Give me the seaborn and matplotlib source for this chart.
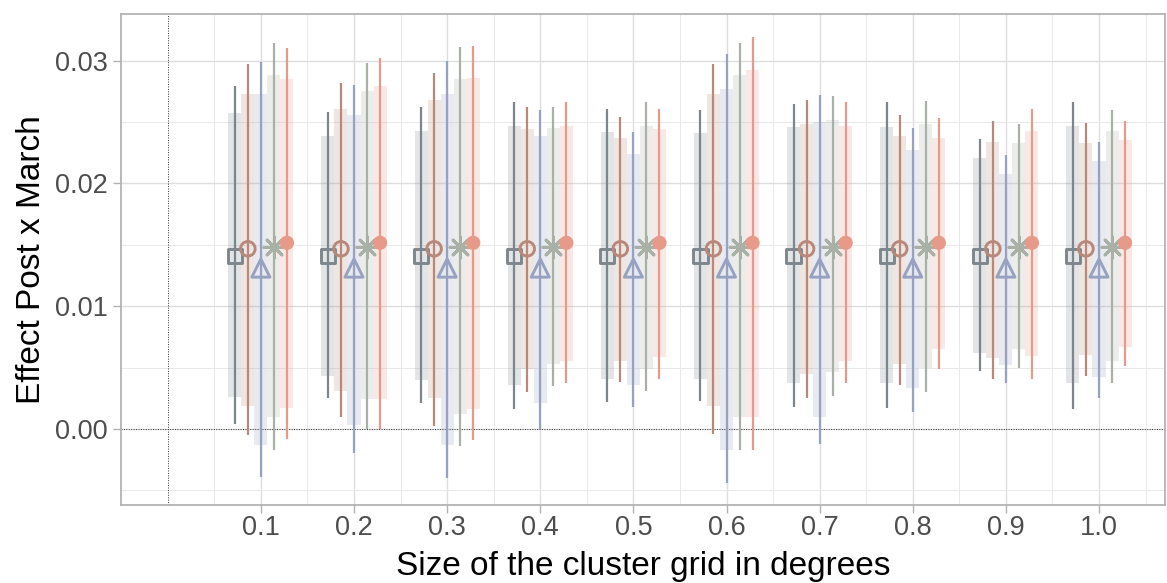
import numpy as np
import pandas as pd
import matplotlib
matplotlib.use('Agg')
import matplotlib.pyplot as plt
import seaborn as sns

# 数据（单位：原值）
sizes = [0.1, 0.2, 0.3, 0.4, 0.5, 0.6, 0.7, 0.8, 0.9, 1.0]
models = ['m1', 'm2', 'm3', 'm4', 'm5']

# 点估计（各网格大小相同）
estimates = [0.01410, 0.01467, 0.01310, 0.01484, 0.01516]

# 95% 区间（细线）与 90% 区间（浅色宽条），单位 1e-3
m1_hi95 = [27.9, 25.8, 26.2, 26.6, 26.1, 26.0, 26.5, 26.6, 23.6, 26.6]
m1_lo95 = [0.4, 2.5, 2.1, 1.6, 2.2, 2.3, 1.8, 1.7, 4.7, 1.65]
m1_hi90 = [25.7, 23.9, 24.3, 24.7, 24.2, 24.1, 24.6, 24.6, 22.1, 24.7]
m1_lo90 = [2.6, 4.3, 4.0, 3.6, 4.1, 4.1, 3.7, 3.7, 6.2, 3.7]

m2_hi95 = [29.7, 28.2, 29.0, 26.2, 25.4, 29.7, 26.8, 25.6, 25.1, 24.9]
m2_lo95 = [-0.46, 1.0, 0.2, 3.0, 3.8, -0.4, 2.5, 3.6, 4.1, 4.3]
m2_hi90 = [27.3, 26.1, 26.8, 24.4, 23.7, 27.3, 24.8, 23.9, 23.4, 23.3]
m2_lo90 = [1.9, 3.1, 2.5, 4.9, 5.5, 1.9, 4.5, 5.3, 5.8, 6.0]

m3_hi95 = [29.9, 28.0, 30.0, 26.0, 24.2, 30.5, 27.2, 24.5, 22.3, 23.4]
m3_lo95 = [-3.9, -2.0, -4.0, 0.0, 1.8, -4.4, -1.2, 1.4, 3.7, 2.5]
m3_hi90 = [27.3, 25.6, 27.3, 23.9, 22.4, 27.7, 25.0, 22.7, 20.8, 21.8]
m3_lo90 = [-1.3, 0.35, -1.3, 2.1, 3.55, -1.7, 1.0, 3.3, 5.2, 4.2]

m4_hi95 = [31.4, 29.8, 31.1, 26.2, 26.6, 31.4, 27.1, 26.7, 24.8, 26.0]
m4_lo95 = [-1.7, 0.0, -1.4, 3.5, 3.1, -1.7, 2.7, 3.0, 5.0, 3.7]
m4_hi90 = [28.8, 27.5, 28.5, 24.5, 24.7, 28.8, 25.2, 24.8, 23.3, 24.3]
m4_lo90 = [0.95, 2.4, 1.2, 5.3, 4.9, 0.95, 4.6, 5.0, 6.5, 5.5]

m5_hi95 = [31.0, 30.2, 31.2, 26.6, 26.1, 31.9, 26.6, 25.3, 26.1, 25.1]
m5_lo95 = [-0.8, 0.0, -0.9, 3.7, 4.1, -1.7, 3.7, 4.9, 4.1, 5.1]
m5_hi90 = [28.5, 27.9, 28.6, 24.7, 24.4, 29.2, 24.7, 23.7, 24.3, 23.5]
m5_lo90 = [1.7, 2.4, 1.6, 5.5, 5.85, 1.0, 5.5, 6.5, 5.9, 6.7]

hi95 = [m1_hi95, m2_hi95, m3_hi95, m4_hi95, m5_hi95]
lo95 = [m1_lo95, m2_lo95, m3_lo95, m4_lo95, m5_lo95]
hi90 = [m1_hi90, m2_hi90, m3_hi90, m4_hi90, m5_hi90]
lo90 = [m1_lo90, m2_lo90, m3_lo90, m4_lo90, m5_lo90]

# 长表
rows = []
for i, m in enumerate(models):
    for j, s in enumerate(sizes):
        rows.append({'model': m, 'size': s, 'est': estimates[i],
                     'lo95': lo95[i][j] / 1000, 'hi95': hi95[i][j] / 1000,
                     'lo90': lo90[i][j] / 1000, 'hi90': hi90[i][j] / 1000})
df = pd.DataFrame(rows)

# 样式
colors = {'m1': '#7d868c', 'm2': '#b8897a', 'm3': '#97a1c0', 'm4': '#a9b1a6', 'm5': '#e89a8a'}
markers = {'m1': 's', 'm2': 'o', 'm3': '^', 'm4': (8, 2, 0), 'm5': 'o'}
msizes = {'m1': 105, 'm2': 110, 'm3': 170, 'm4': 230, 'm5': 105}
hollow = {'m1': True, 'm2': True, 'm3': True, 'm4': False, 'm5': False}
step = 0.014
offsets = {m: (k - 2) * step for k, m in enumerate(models)}
df['xpos'] = df['size'] + df['model'].map(offsets)

sns.set_style('whitegrid')
plt.rcParams['font.family'] = ['Liberation Sans', 'DejaVu Sans']

fig, ax = plt.subplots(figsize=(11.67, 5.83), dpi=100)
fig.subplots_adjust(left=0.1037, right=0.9983, bottom=0.1338, top=0.976)

# 网格
ax.set_axisbelow(True)
ax.set_xticks(sizes)
ax.set_xticks(np.arange(0.05, 1.1, 0.1), minor=True)
ax.set_yticks([0.0, 0.01, 0.02, 0.03])
ax.set_yticks([-0.005, 0.005, 0.015, 0.025], minor=True)
ax.grid(which='major', color='#dedede', linewidth=1.0)
ax.grid(which='minor', color='#e9e9e9', linewidth=0.7)

# 参考线
ax.axhline(0, color='#333333', linestyle=(0, (1, 1.5)), linewidth=0.7, zorder=1.5)
ax.axvline(0, color='#333333', linestyle=(0, (1, 1.5)), linewidth=0.7, zorder=1.5)

for m in models:
    sub = df[df['model'] == m]
    ax.bar(sub['xpos'], sub['hi90'] - sub['lo90'], bottom=sub['lo90'], width=step,
           color=colors[m], alpha=0.22, linewidth=0, zorder=2)
for m in models:
    sub = df[df['model'] == m]
    ax.vlines(sub['xpos'], sub['lo95'], sub['hi95'], color=colors[m], linewidth=1.6, zorder=3)

for m in models:
    sub = df[df['model'] == m]
    sns.scatterplot(data=sub, x='xpos', y='est', marker=markers[m], s=msizes[m],
                    color=colors[m], ax=ax, zorder=4, legend=False)
    coll = ax.collections[-1]
    if hollow[m]:
        coll.set_facecolor('none')
        coll.set_edgecolor(colors[m])
        coll.set_linewidth(2.1)
    elif m == 'm4':
        coll.set_edgecolor(colors[m])
        coll.set_linewidth(2.1)
    else:
        coll.set_edgecolor('none')

ax.set_xlim(-0.0502, 1.0709)
ax.set_ylim(-0.0062, 0.0338)
ax.set_xticklabels([f'{s:.1f}' for s in sizes])
ax.set_yticklabels(['0.00', '0.01', '0.02', '0.03'])

for sp in ax.spines.values():
    sp.set_color('#b3b3b3')
    sp.set_linewidth(1.3)

ax.tick_params(axis='both', which='major', labelsize=19.5, labelcolor='#4d4d4d',
               color='#b3b3b3', length=5.5, width=1.0, left=True, bottom=True)
ax.tick_params(axis='y', which='major', pad=4)
ax.tick_params(axis='x', which='major', pad=2)
ax.tick_params(axis='both', which='minor', length=0)

ax.set_xlabel('Size of the cluster grid in degrees', fontsize=24, color='black', labelpad=7)
ax.set_ylabel('Effect Post x March', fontsize=24, color='black', labelpad=6)

plt.savefig('out.png', dpi=100)
plt.close()
